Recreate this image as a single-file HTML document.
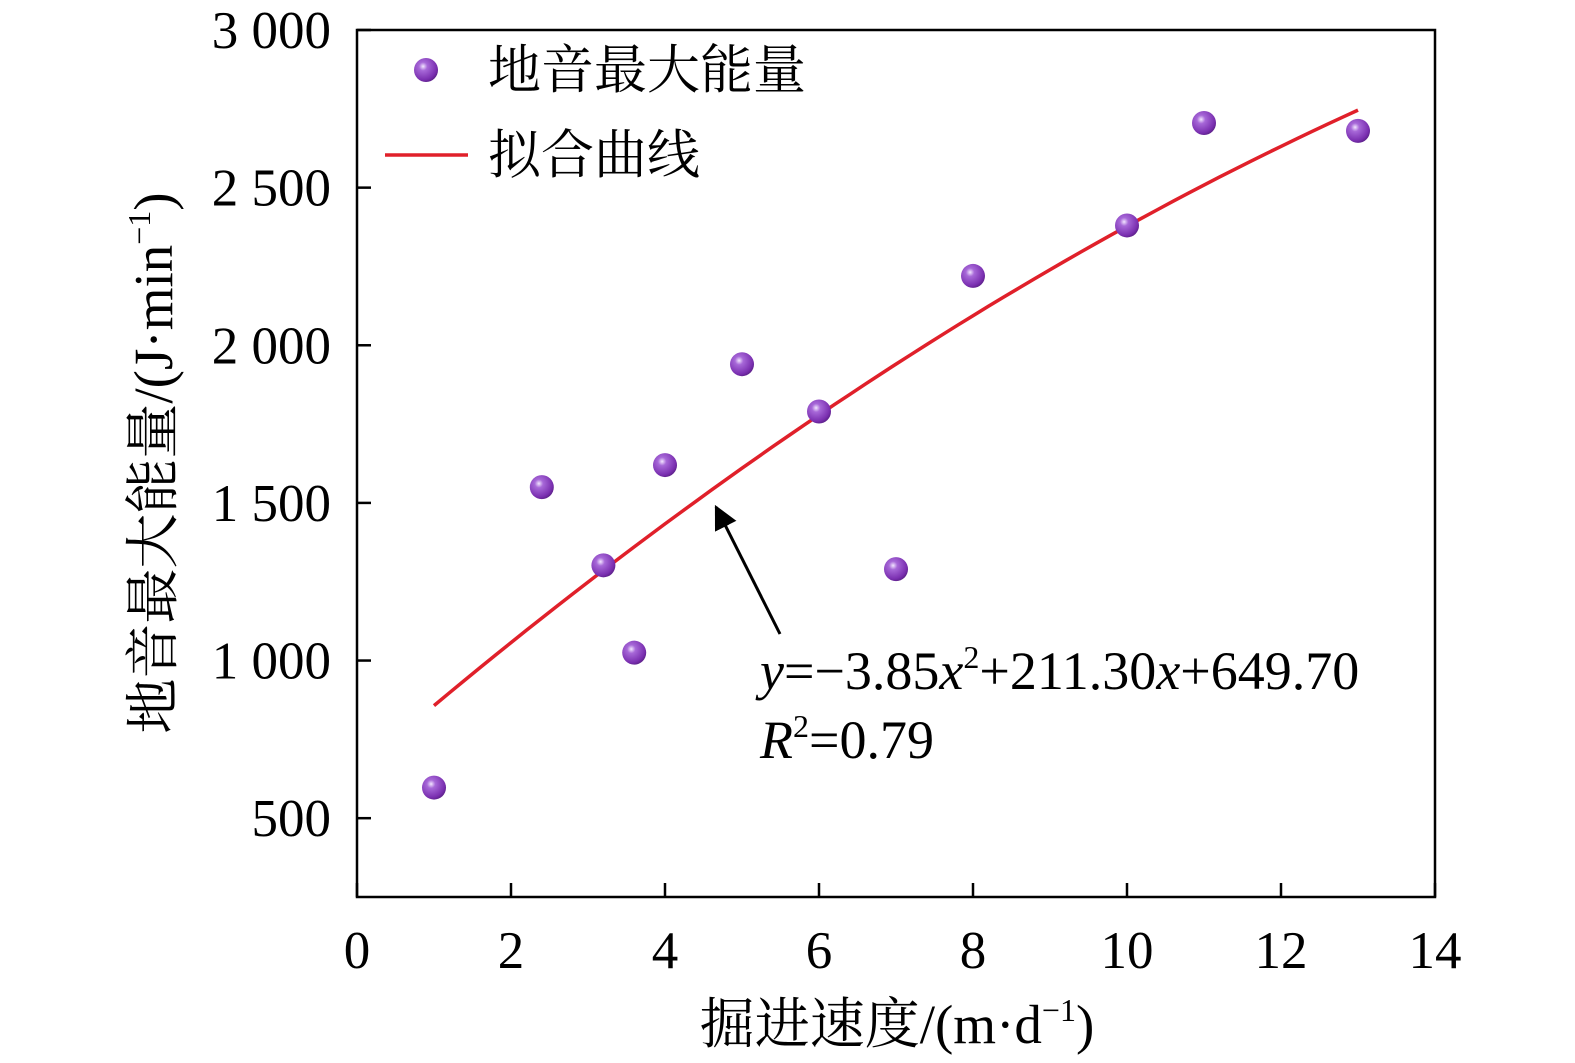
<!DOCTYPE html>
<html><head><meta charset="utf-8"><style>
html,body{margin:0;padding:0;background:#fff;}
svg{display:block;font-family:"Liberation Serif","Noto Serif CJK SC",serif;}
</style></head><body>
<svg id="chart" width="1575" height="1063" viewBox="0 0 1575 1063" xmlns="http://www.w3.org/2000/svg">
<defs>
<radialGradient id="ball" cx="0.38" cy="0.35" r="0.7">
<stop offset="0" stop-color="#f2e6ff"/>
<stop offset="0.25" stop-color="#a768d8"/>
<stop offset="0.8" stop-color="#7a2fb0"/>
<stop offset="1" stop-color="#5a1f86"/>
</radialGradient>
<marker id="arrow" viewBox="0 0 10 10" refX="9" refY="5" markerWidth="8" markerHeight="8" orient="auto-start-reverse">
<path d="M0,0 L10,5 L0,10 z" fill="#000"/>
</marker>
</defs>
<g id="axes"></g>
<g id="marks"></g>
<text x="897" y="1043" font-size="55" text-anchor="middle">掘进速度/(m·d<tspan font-size="32" dy="-22">−1</tspan><tspan dy="22">)</tspan></text>
<text transform="translate(172,463) rotate(-90)" font-size="55" text-anchor="middle">地音最大能量/(J·min<tspan font-size="32" dy="-22">−1</tspan><tspan dy="22">)</tspan></text>
<g>
<circle cx="426" cy="70" r="12" fill="url(#ball)"/>
<text x="488" y="88" font-size="53">地音最大能量</text>
<line x1="385" y1="155" x2="468" y2="155" stroke="#e0202a" stroke-width="3.5"/>
<text x="488" y="173" font-size="53">拟合曲线</text>
</g>
<line x1="780" y1="634" x2="716" y2="507" stroke="#000" stroke-width="3" marker-end="url(#arrow)"/>
<text x="760" y="689" font-size="54"><tspan font-style="italic">y</tspan>=−3.85<tspan font-style="italic">x</tspan><tspan font-size="32" dy="-21">2</tspan><tspan dy="21">+211.30</tspan><tspan font-style="italic">x</tspan>+649.70</text>
<text x="760" y="758" font-size="54"><tspan font-style="italic">R</tspan><tspan font-size="32" dy="-21">2</tspan><tspan dy="21">=0.79</tspan></text>
</svg>
<script>
const xVals=[1,2.4,3.2,3.6,4,5,6,7,8,10,11,13];
const yVals=[597,1550,1302,1025,1620,1940,1790,1290,2220,2380,2705,2680];
const fitCoef=[-3.85,211.30,649.70];
const xTicks=[0,2,4,6,8,10,12,14];
const yTicks=[500,1000,1500,2000,2500,3000];
const yTickLabels=["500","1 000","1 500","2 000","2 500","3 000"];
const X0=357,X1=1435,Y0=897,Y1=30,xMin=0,xMax=14,yMin=250,yMax=3000;
const sx=v=>X0+(v-xMin)/(xMax-xMin)*(X1-X0);
const sy=v=>Y0-(v-yMin)/(yMax-yMin)*(Y0-Y1);
const NS="http://www.w3.org/2000/svg";
function mk(tag,attrs,parent){const e=document.createElementNS(NS,tag);for(const k in attrs)e.setAttribute(k,attrs[k]);parent.appendChild(e);return e;}
const ax=document.getElementById('axes'),mg=document.getElementById('marks');
const frame=mk('rect',{x:X0,y:Y1,width:X1-X0,height:Y0-Y1,fill:'none',stroke:'#000','stroke-width':2.5},ax);


xTicks.forEach(t=>{
 const l=mk('line',{x1:sx(t),x2:sx(t),y1:Y0,y2:Y0-14,stroke:'#000','stroke-width':2.5},ax);
 
 
 const tx=mk('text',{x:sx(t),y:968,'font-size':53,'text-anchor':'middle'},ax);tx.textContent=t;
 
 
});
yTicks.forEach((t,i)=>{
 const l=mk('line',{x1:X0,x2:X0+14,y1:sy(t),y2:sy(t),stroke:'#000','stroke-width':2.5},ax);
 
 
 const tx=mk('text',{x:331,y:sy(t)+18,'font-size':53,'text-anchor':'end'},ax);tx.textContent=yTickLabels[i];
 
 
});
let d='';
for(let i=0;i<=60;i++){const x=1+12*i/60;const y=fitCoef[0]*x*x+fitCoef[1]*x+fitCoef[2];d+=(i?'L':'M')+sx(x).toFixed(1)+','+sy(y).toFixed(1);}
const fit=mk('path',{d:d,fill:'none',stroke:'#e0202a','stroke-width':3.5},mg);


xVals.forEach((x,i)=>{
 const c=mk('circle',{cx:sx(x),cy:sy(yVals[i]),r:12,fill:'url(#ball)'},mg);
 
 
});
</script>
</body></html>
